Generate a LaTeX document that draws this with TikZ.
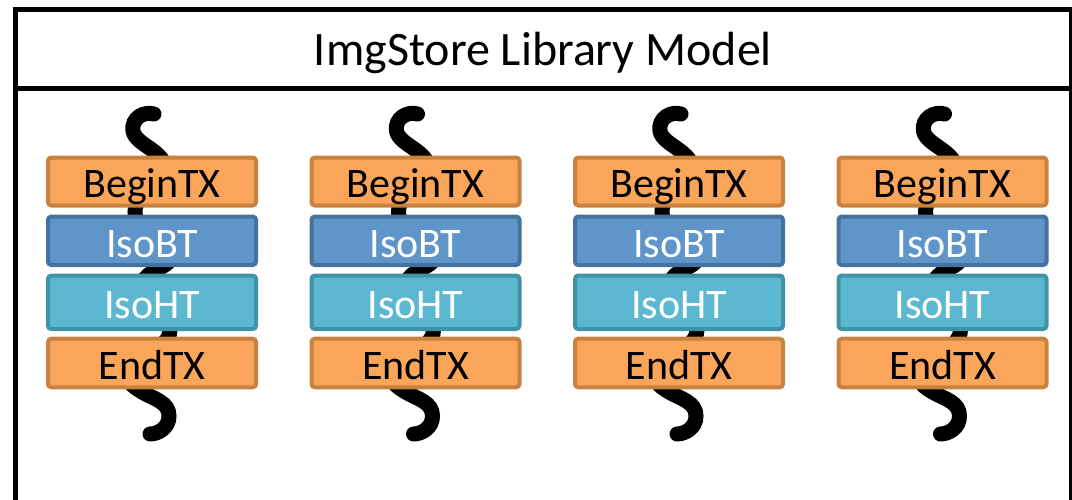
\documentclass[tikz,border=0pt]{standalone}
\usepackage{fontspec}
\setmainfont{Carlito}
\definecolor{txfill}{RGB}{249,166,90}
\definecolor{txline}{RGB}{200,130,64}
\definecolor{btfill}{RGB}{96,149,202}
\definecolor{btline}{RGB}{70,114,160}
\definecolor{htfill}{RGB}{91,184,208}
\definecolor{htline}{RGB}{66,146,165}
\tikzset{
  frame/.style={draw=black, line width=3.75pt},
  thread/.style={draw=black, line width=11.25pt, line cap=round},
  stepbox/.style={line width=3pt, rounded corners=2.5pt, inner sep=0pt,
    minimum width=208*0.75pt, text height=24.5pt, text depth=0pt,
    font=\fontsize{31.5}{36}\selectfont},
  txbox/.style={stepbox, fill=txfill, draw=txline, text=black},
  btbox/.style={stepbox, fill=btfill, draw=btline, text=white},
  htbox/.style={stepbox, fill=htfill, draw=htline, text=white},
  titletext/.style={anchor=base, inner sep=0pt, font=\fontsize{36}{42}\selectfont}
}
\begin{document}
\begin{tikzpicture}[x=0.75pt, y=-0.75pt]
\useasboundingbox (0,0) rectangle (1072,500);
\clip (0,0) rectangle (1072,500);

% outer frame and title bar
\draw[frame] (15.5,9.5) rectangle (1071,530);
\draw[frame] (15.5,88) -- (1071,88);
\node[titletext] (title) at (543,65) {ImgStore Library Model};

% four transaction stacks, each threaded by a wavy line
\foreach \k/\cx in {1/152, 2/415.5, 3/679, 4/942.5} {
  \begin{scope}[shift={(\cx,0)}]
    \draw[thread] (2,114) .. controls (-8,111) and (-21,118) .. (-19,131)
      .. controls (-16,146) and (14,150) .. (14,172)
      .. controls (14,192) and (-17,190) .. (-17,212)
      .. controls (-17,235) and (25,235) .. (22,252)
      .. controls (20,262) and (12,266) .. (4,270)
      .. controls (-8,276) and (-14,285) .. (-8,298)
      .. controls (-2,310) and (18,315) .. (18,330)
      .. controls (18,350) and (-24,360) .. (-24,375)
      .. controls (-24,382) and (-20,386) .. (-10,392)
      .. controls (2,399) and (17,402) .. (17,416)
      .. controls (17,428) and (6,434) .. (-2,434);
    \node[txbox, minimum height=48*0.75pt]   (begin\k) at (0,181.5)  {BeginTX};
    \node[btbox, minimum height=48.5*0.75pt] (isobt\k) at (0,240.75) {IsoBT};
    \node[htbox, minimum height=53.5*0.75pt] (isoht\k) at (0,302.25) {IsoHT};
    \node[txbox, minimum height=48.6*0.75pt] (end\k)   at (0,363)    {EndTX};
  \end{scope}
}
\end{tikzpicture}
\end{document}
